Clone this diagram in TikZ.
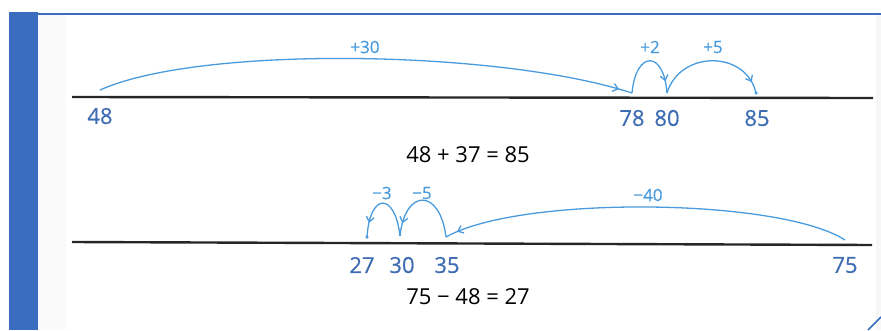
\documentclass[tikz,border=0pt]{standalone}
\usepackage{fontspec}
\setmainfont{Open Sans}
\newfontfamily\medfont{Open Sans}[FakeBold=0.5]
\usetikzlibrary{arrows.meta,decorations.markings}
\definecolor{arcblue}{HTML}{4A9BDD}
\definecolor{numblue}{HTML}{3F6DB3}
\definecolor{barblue}{HTML}{3A6CC0}
\tikzset{
  jump/.style={draw=arcblue, line width=1.3pt, postaction={decorate},
    decoration={markings, mark=at position #1 with {\arrow{Straight Barb[length=5pt,width=8pt,line width=1.3pt]}}}},
  numline/.style={draw=black!85, line width=2.4pt},
  num/.style={text=numblue, font=\medfont\fontsize{22}{24}\selectfont, inner sep=0pt},
  steplabel/.style={text=arcblue, font=\medfont\fontsize{17}{19}\selectfont, inner sep=0pt},
  eqn/.style={text=black, font=\fontsize{22}{24}\selectfont, inner sep=0pt},
  enddot/.style={fill=arcblue, circle, inner sep=0pt, minimum size=3.5pt}
}
\begin{document}
\begin{tikzpicture}[x=1pt,y=-1pt]
\useasboundingbox (0,0) rectangle (881,330);
% frame
\fill[black!2] (38,15) rectangle (66,330);
\fill[black!3] (876,15) rectangle (881,330);
\fill[barblue] (9,12) rectangle (38,330);
\draw[barblue, line width=2pt] (38,14) -- (881,14);
\draw[barblue, line width=1.5pt] (868,330) -- (881,317);

% top number line
\coordinate (L1a) at (72,97);
\coordinate (L1b) at (873,98);
\draw[numline] (L1a) -- (L1b);
\coordinate (a48) at (100,90);
\coordinate (a78) at (632,93);
\coordinate (a80) at (667,93);
\coordinate (a85) at (756,93);
\node[num] (n48) at (100,116) {48};
\node[num] (n78) at (632,118) {78};
\node[num] (n80) at (667,118) {80};
\node[num] (n85) at (757,118) {85};
\draw[jump=0.975] (a48) .. controls +(100,-45) and +(-132,-43) .. (a78);
\draw[jump=0.85] (a78) .. controls +(4,-43) and +(-3,-43) .. (a80);
\draw[jump=0.9] (a80) .. controls +(13,-43) and +(-10,-43) .. (a85);
\node[enddot] at (a85) {};
\node[steplabel] (s30) at (365,47) {+30};
\node[steplabel] (s2) at (650,47) {+2};
\node[steplabel] (s5) at (713,47) {+5};
\node[eqn] (eq1) at (468,155) {48 + 37 = 85};

% bottom number line
\coordinate (L2a) at (72,242);
\coordinate (L2b) at (872,245);
\draw[numline] (L2a) -- (L2b);
\coordinate (b75) at (845,240);
\coordinate (b35) at (446,237);
\coordinate (b30) at (400,236);
\coordinate (b27) at (367,237);
\node[num] (n27) at (362,265) {27};
\node[num] (n30) at (402,265) {30};
\node[num] (n35) at (447,265) {35};
\node[num] (n75) at (845,265) {75};
\draw[jump=0.97] (b75) .. controls +(-65,-42) and +(74,-42) .. (b35);
\draw[jump=0.86] (b35) .. controls +(-6,-49) and +(5,-48) .. (b30);
\draw[jump=0.82] (b30) .. controls +(-5,-44) and +(3,-45) .. (b27);
\node[enddot] at (b27) {};
\node[steplabel] (s3) at (382,193) {−3};
\node[steplabel] (s5b) at (422,193) {−5};
\node[steplabel] (s40) at (648,195) {−40};
\node[eqn] (eq2) at (468,297) {75 − 48 = 27};
\end{tikzpicture}
\end{document}
